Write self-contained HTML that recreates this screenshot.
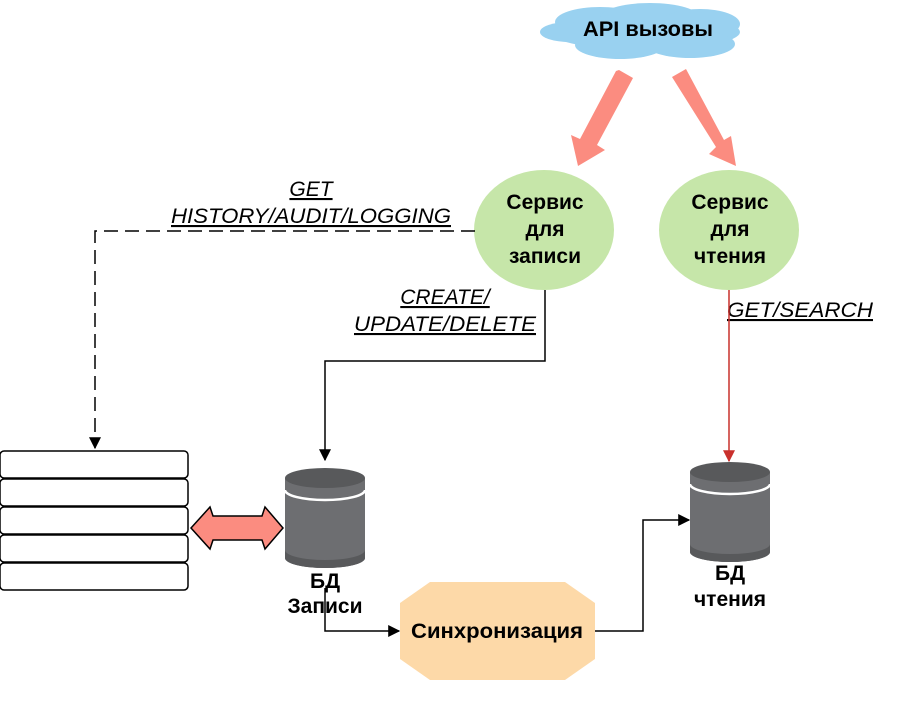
<!DOCTYPE html>
<html><head><meta charset="utf-8"><style>body{margin:0;background:#fff}svg{display:block}text{font-family:"Liberation Sans",sans-serif}</style></head>
<body>
<svg width="920" height="721" viewBox="0 0 920 721" xmlns="http://www.w3.org/2000/svg">
<defs>
<marker id="ab" viewBox="0 0 10 10" refX="9" refY="5" markerWidth="8" markerHeight="8" orient="auto"><path d="M0,0L10,5L0,10z" fill="#000"/></marker>
<marker id="ar" viewBox="0 0 10 10" refX="9" refY="5" markerWidth="8" markerHeight="8" orient="auto"><path d="M0,0L10,5L0,10z" fill="#c9302c"/></marker>
</defs>
<g fill="#99d1f0">
<ellipse cx="645" cy="32" rx="95" ry="18"/>
<ellipse cx="600" cy="22" rx="45" ry="15"/>
<ellipse cx="650" cy="18" rx="50" ry="15"/>
<ellipse cx="700" cy="24" rx="40" ry="15"/>
<ellipse cx="620" cy="45" rx="45" ry="14"/>
<ellipse cx="690" cy="44" rx="45" ry="14"/>
<ellipse cx="570" cy="32" rx="30" ry="10"/>
</g>
<text x="648" y="36" font-size="21" font-weight="bold" text-anchor="middle" textLength="130" lengthAdjust="spacingAndGlyphs">API вызовы</text>
<g fill="#fb8c80">
<path d="M619,70 L633,78 L597,145 L605,150 L578,166 L571,135 L580,139 L616,71z"/>
<path d="M672,77 L686,69 L724,140 L731,136 L736,166 L709,154 L716,147z"/>
</g>
<ellipse cx="544" cy="230" rx="70" ry="60" fill="#c6e6a9"/>
<ellipse cx="729" cy="230" rx="70" ry="60" fill="#c6e6a9"/>
<g font-size="21" font-weight="bold" text-anchor="middle">
<text x="545" y="209">Сервис</text><text x="545" y="236">для</text><text x="545" y="263">записи</text>
<text x="730" y="209">Сервис</text><text x="730" y="236">для</text><text x="730" y="263">чтения</text>
</g>
<g font-size="21" font-style="italic" text-anchor="middle" text-decoration="underline">
<text x="311" y="196">GET</text>
<text x="311" y="223" textLength="280" lengthAdjust="spacingAndGlyphs">HISTORY/AUDIT/LOGGING</text>
<text x="445" y="304">CREATE/</text>
<text x="445" y="331" textLength="182" lengthAdjust="spacingAndGlyphs">UPDATE/DELETE</text>
<text x="800" y="317" textLength="146" lengthAdjust="spacingAndGlyphs">GET/SEARCH</text>
</g>
<path d="M475,231 H95 V448" fill="none" stroke="#000" stroke-width="1.5" stroke-dasharray="14,7" marker-end="url(#ab)"/>
<path d="M545,290 V361 H325 V460" fill="none" stroke="#000" stroke-width="1.5" marker-end="url(#ab)"/>
<path d="M729,290 V461" fill="none" stroke="#c9302c" stroke-width="1.5" marker-end="url(#ar)"/>
<path d="M325,588 V631 H399" fill="none" stroke="#000" stroke-width="1.5" marker-end="url(#ab)"/>
<path d="M595,631 H643 V520 H689" fill="none" stroke="#000" stroke-width="1.5" marker-end="url(#ab)"/>
<g fill="#fff" stroke="#000" stroke-width="1.5">
<rect x="0" y="451" width="188" height="27" rx="4"/>
<rect x="0" y="479" width="188" height="27" rx="4"/>
<rect x="0" y="507" width="188" height="27" rx="4"/>
<rect x="0" y="535" width="188" height="27" rx="4"/>
<rect x="0" y="563" width="188" height="27" rx="4"/>
</g>
<path d="M191,528 L210,507 L213,516 H262 L265,507 L283,528 L265,549 L262,540 H213 L210,549z" fill="#fb8c80" stroke="#000" stroke-width="1.5"/>
<g>
<path d="M285,478 V558 A40,10 0 0 0 365,558 V478z" fill="#6d6e71"/>
<path d="M285,550 V558 A40,10 0 0 0 365,558 V550 A40,10 0 0 1 285,550z" fill="#58595b"/>
<path d="M285,490 A40,10 0 0 0 365,490" fill="none" stroke="#fff" stroke-width="2.5"/>
<ellipse cx="325" cy="478" rx="40" ry="10" fill="#58595b"/>
</g>
<g>
<path d="M690,472 V552 A40,10 0 0 0 770,552 V472z" fill="#6d6e71"/>
<path d="M690,544 V552 A40,10 0 0 0 770,552 V544 A40,10 0 0 1 690,544z" fill="#58595b"/>
<path d="M690,484 A40,10 0 0 0 770,484" fill="none" stroke="#fff" stroke-width="2.5"/>
<ellipse cx="730" cy="472" rx="40" ry="10" fill="#58595b"/>
</g>
<g font-size="21" font-weight="bold" text-anchor="middle">
<text x="325" y="588">БД</text><text x="325" y="613">Записи</text>
<text x="730" y="580">БД</text><text x="730" y="606">чтения</text>
</g>
<path d="M430,582 H565 L595,603 V659 L565,680 H430 L400,659 V603z" fill="#fdd9a8"/>
<text x="497" y="638" font-size="21" font-weight="bold" text-anchor="middle" textLength="172" lengthAdjust="spacingAndGlyphs">Синхронизация</text>
</svg>
</body></html>
